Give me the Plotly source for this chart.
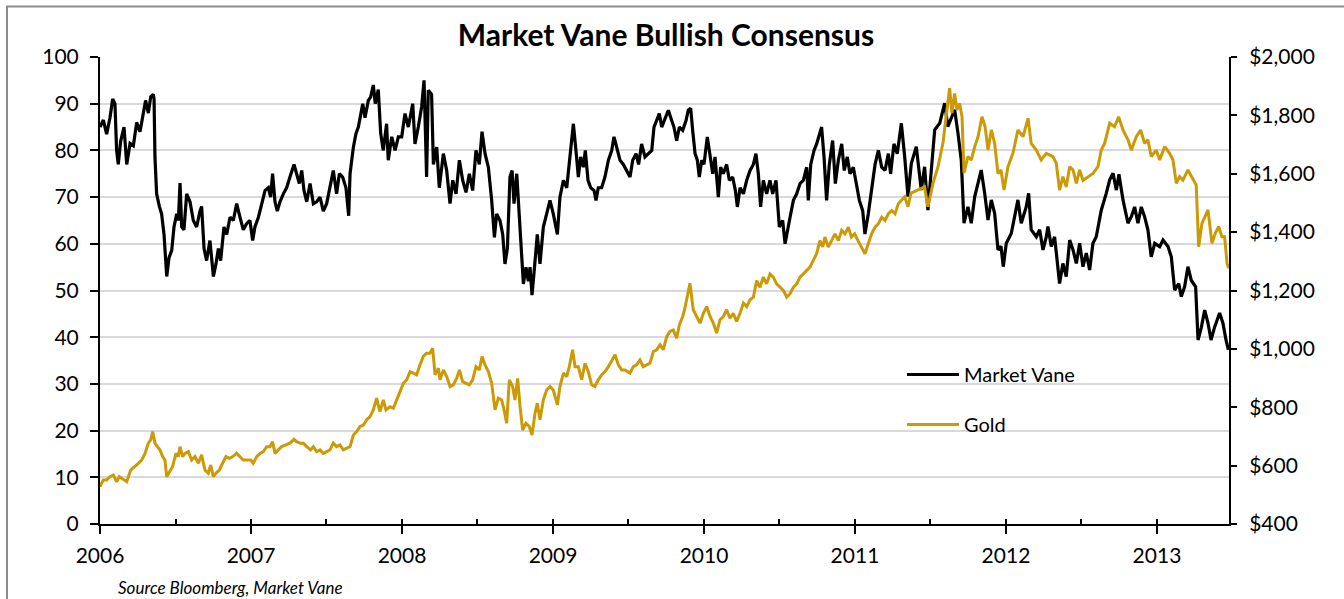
import plotly.graph_objects as go

# ---------------- data ----------------
mv_years = [
    2006.000, 2006.022, 2006.044, 2006.066, 2006.084, 2006.099, 2006.110, 2006.121, 2006.137, 2006.159,
    2006.177, 2006.199, 2006.221, 2006.243, 2006.265, 2006.287, 2006.302, 2006.320, 2006.336, 2006.353,
    2006.358, 2006.364, 2006.375, 2006.393, 2006.408, 2006.424, 2006.442, 2006.457, 2006.475, 2006.490,
    2006.508, 2006.519, 2006.530, 2006.541, 2006.556, 2006.574, 2006.596, 2006.618, 2006.640, 2006.662,
    2006.673, 2006.689, 2006.706, 2006.728, 2006.751, 2006.768, 2006.784, 2006.799, 2006.821, 2006.839,
    2006.861, 2006.883, 2006.905, 2006.927, 2006.949, 2006.971, 2006.993, 2007.011, 2007.026, 2007.049,
    2007.071, 2007.093, 2007.115, 2007.130, 2007.143, 2007.159, 2007.174, 2007.192, 2007.214, 2007.236,
    2007.258, 2007.285, 2007.302, 2007.320, 2007.336, 2007.351, 2007.369, 2007.391, 2007.413, 2007.435,
    2007.457, 2007.479, 2007.501, 2007.523, 2007.545, 2007.567, 2007.585, 2007.607, 2007.629, 2007.647,
    2007.656, 2007.678, 2007.695, 2007.711, 2007.722, 2007.740, 2007.755, 2007.777, 2007.792, 2007.810,
    2007.823, 2007.843, 2007.859, 2007.876, 2007.898, 2007.909, 2007.932, 2007.954, 2007.976, 2007.998,
    2008.020, 2008.042, 2008.071, 2008.086, 2008.108, 2008.130, 2008.146, 2008.163, 2008.174, 2008.196,
    2008.208, 2008.230, 2008.247, 2008.274, 2008.296,
    2008.318, 2008.336, 2008.358, 2008.380, 2008.402, 2008.424, 2008.446, 2008.468, 2008.490, 2008.512,
    2008.530, 2008.550, 2008.572, 2008.594, 2008.612, 2008.627, 2008.649, 2008.667, 2008.682, 2008.698,
    2008.715, 2008.729, 2008.742, 2008.760, 2008.777, 2008.793, 2008.804, 2008.821, 2008.837, 2008.848,
    2008.861, 2008.874, 2008.896, 2008.914, 2008.936, 2008.958, 2008.980, 2009.002, 2009.029, 2009.046,
    2009.069, 2009.091, 2009.113, 2009.135, 2009.152, 2009.168, 2009.183, 2009.201, 2009.214, 2009.232,
    2009.250, 2009.272, 2009.285, 2009.300, 2009.322, 2009.344, 2009.367, 2009.389, 2009.404, 2009.422,
    2009.444, 2009.466, 2009.488, 2009.510, 2009.528, 2009.550, 2009.567, 2009.587, 2009.609, 2009.631,
    2009.654, 2009.669, 2009.687, 2009.704, 2009.720, 2009.742, 2009.764, 2009.786, 2009.801, 2009.819,
    2009.837, 2009.859, 2009.881, 2009.896, 2009.912, 2009.925, 2009.941, 2009.956, 2009.969, 2009.985,
    2010.000, 2010.022, 2010.040, 2010.058, 2010.073, 2010.095, 2010.110, 2010.128, 2010.150, 2010.168,
    2010.190, 2010.208, 2010.221, 2010.239, 2010.261, 2010.283, 2010.305, 2010.327, 2010.344, 2010.360,
    2010.375, 2010.393, 2010.415, 2010.437, 2010.455, 2010.477, 2010.499, 2010.521, 2010.537, 2010.552,
    2010.570, 2010.592, 2010.614, 2010.636, 2010.658, 2010.680, 2010.691, 2010.707, 2010.729, 2010.746,
    2010.764, 2010.779, 2010.795, 2010.812, 2010.830, 2010.852, 2010.870, 2010.890, 2010.912, 2010.929,
    2010.949, 2010.967, 2010.989, 2011.011, 2011.029, 2011.051, 2011.066, 2011.088, 2011.110, 2011.133,
    2011.155, 2011.177, 2011.199, 2011.221, 2011.236, 2011.258, 2011.280,
    2011.307, 2011.329, 2011.351, 2011.373, 2011.406, 2011.439, 2011.461, 2011.483, 2011.505, 2011.528,
    2011.561, 2011.583, 2011.594, 2011.615, 2011.638, 2011.660, 2011.682, 2011.704, 2011.722, 2011.748,
    2011.770, 2011.793, 2011.815, 2011.836, 2011.859, 2011.881, 2011.903, 2011.925, 2011.947, 2011.967,
    2011.982, 2012.002, 2012.035, 2012.057, 2012.079, 2012.101, 2012.134, 2012.150, 2012.167, 2012.201,
    2012.223, 2012.245, 2012.267,
    2012.278, 2012.300, 2012.322, 2012.355, 2012.377, 2012.399, 2012.422, 2012.444, 2012.466, 2012.488,
    2012.510, 2012.532, 2012.554, 2012.576, 2012.598, 2012.631, 2012.664, 2012.687, 2012.709, 2012.731,
    2012.748, 2012.775, 2012.808, 2012.830, 2012.852, 2012.874, 2012.896, 2012.918, 2012.940, 2012.962,
    2012.985, 2013.018, 2013.040, 2013.073, 2013.095, 2013.117, 2013.144, 2013.161, 2013.183, 2013.205,
    2013.227, 2013.256, 2013.272, 2013.293, 2013.316, 2013.338, 2013.358, 2013.382, 2013.415, 2013.437,
    2013.457, 2013.473,
]
mv_values = [
    85, 86.5, 83.5, 87, 91, 90, 80, 77, 82, 85,
    77, 81.5, 81, 86, 84, 88.5, 90.7, 88, 91.5, 92,
    91, 78.6, 70.7, 68, 66.4, 62, 53, 57, 58.6, 63.6,
    66.4, 65, 73, 63.6, 63, 70.7, 69, 65, 63.6, 67,
    68, 59, 56.4, 60.7, 53, 55.7, 59, 56.4, 63.6, 62,
    65.7, 65, 68.6, 65.7, 63, 64.3, 65, 60.7, 63.6, 65.7,
    68.6, 71.4, 72, 70, 75, 69, 67, 69, 70.7, 72,
    74.3, 77, 75, 72.9, 75.7, 71.4, 69, 72.9, 68.6, 69,
    70, 67, 68.6, 72, 75.7, 70.7, 75, 74.3, 72, 66,
    75, 80.7, 83.6, 85, 87, 90, 87, 90.7, 91.4, 94,
    90, 93, 83.6, 80, 85.7, 77.9, 82.9, 80, 82.9, 82.9,
    87.9, 85, 90, 81.4, 85, 89.3, 95, 74.3, 92.9, 92,
    77, 80.7, 72, 79.3, 75.7,
    68.6, 73.6, 70.7, 77.9, 73.6, 71, 75, 71.4, 80, 77,
    84, 79.3, 76.4, 69.3, 61.4, 66.4, 65, 62, 55.7, 59,
    74.3, 75.7, 68.6, 75, 65.7, 59, 51.4, 55, 52, 55,
    49, 53.6, 62, 55.7, 63.6, 66.4, 69.3, 66.4, 62, 70,
    73.6, 72, 78.6, 85.7, 80, 74.3, 78.6, 76.4, 80, 73.6,
    72, 71.4, 69.3, 72, 72, 74.3, 77.9, 80, 82.9, 80.7,
    77.9, 77, 75.7, 74.3, 77.9, 79.3, 77, 81.4, 78.6, 79.3,
    80, 85, 86.4, 87.9, 85, 87, 88.6, 86.4, 85, 82.1,
    85, 84.3, 86.4, 88.6, 89, 84.3, 79.3, 77.9, 74.3, 77.9,
    77, 82.9, 79.3, 75, 78.6, 70, 76.4, 75, 77, 73.6,
    74.3, 71.4, 67.9, 72, 70.7, 73.6, 75.7, 77, 79.3, 75,
    67.9, 73.6, 70.7, 73.6, 70.7, 73.6, 63.6, 65, 60, 62.9,
    65.7, 69.3, 70.7, 72.9, 73.6, 76.4, 69.3, 77, 80, 81.4,
    83.6, 85, 78.6, 69.3, 77, 82.1, 72.9, 77.9, 81.4, 75.7,
    78.6, 75, 76.4, 72.9, 69.3, 67.1, 62.1, 66.4, 71.4, 77,
    80, 76.4, 75.7, 79.3, 75, 81.4, 79.3,
    85.8, 78.7, 70.1, 77.2, 80.8, 71.5, 76.5, 67.2, 75.1, 84.4,
    85.8, 88.7, 90.1, 85.1, 87.2, 88.7, 83.7, 77.9, 64.4, 67.9,
    64.4, 70.1, 73, 75.8, 70.8, 65.1, 69.4, 66.5, 58.7, 59.5,
    55.1, 60.1, 62.2, 65.8, 69.4, 64.4, 67.9, 70.8, 63, 61.5,
    63, 58.7, 61.5,
    63.7, 59.4, 61.5, 51.5, 55.8, 53, 60.8, 58.7, 55.8, 60.1,
    55.1, 58, 54.4, 60.1, 61.5, 67.2, 70.8, 73.7, 75.1, 71.5,
    74.9, 69.4, 64.4, 65.8, 67.9, 64.4, 67.9, 65.8, 63, 57.2,
    60.1, 59.4, 60.8, 59.4, 57.2, 50.1, 51.5, 48.7, 50.8, 55.1,
    52.2, 50.8, 39.4, 42, 45.8, 43, 39.4, 42.2, 45.2, 43,
    39.4, 37.3,
]

gold_years = [
    2006.000, 2006.022, 2006.044, 2006.066, 2006.088, 2006.110, 2006.128, 2006.155, 2006.177, 2006.203,
    2006.232, 2006.254, 2006.276, 2006.298, 2006.320, 2006.336, 2006.349, 2006.364, 2006.380, 2006.397,
    2006.415, 2006.430, 2006.442, 2006.464, 2006.481, 2006.503, 2006.519, 2006.530, 2006.547, 2006.563,
    2006.585, 2006.607, 2006.629, 2006.651, 2006.673, 2006.695, 2006.717, 2006.733, 2006.751, 2006.768,
    2006.790, 2006.812, 2006.834, 2006.857, 2006.879, 2006.905, 2006.927, 2006.949, 2006.976, 2006.998,
    2007.015, 2007.038, 2007.060, 2007.082, 2007.104, 2007.126, 2007.143, 2007.159, 2007.181, 2007.203,
    2007.232, 2007.258, 2007.285, 2007.302, 2007.325, 2007.347, 2007.369, 2007.395, 2007.413, 2007.435,
    2007.457, 2007.479, 2007.501, 2007.523, 2007.545, 2007.567, 2007.589, 2007.611, 2007.634, 2007.656,
    2007.678, 2007.700, 2007.722, 2007.744, 2007.766, 2007.788, 2007.810, 2007.832, 2007.854, 2007.876,
    2007.894, 2007.921, 2007.943, 2007.965, 2007.987, 2008.009, 2008.031, 2008.053, 2008.075, 2008.097,
    2008.119, 2008.141, 2008.163, 2008.185, 2008.203, 2008.219, 2008.241, 2008.252, 2008.274, 2008.296,
    2008.318, 2008.340, 2008.362, 2008.380, 2008.402, 2008.424, 2008.446, 2008.468, 2008.490, 2008.512,
    2008.530, 2008.550, 2008.572, 2008.594, 2008.616, 2008.638, 2008.660, 2008.676, 2008.693, 2008.711,
    2008.733, 2008.748, 2008.766, 2008.782, 2008.799, 2008.821, 2008.843, 2008.861, 2008.881, 2008.896,
    2008.914, 2008.936, 2008.958, 2008.980, 2009.002, 2009.029, 2009.046, 2009.069, 2009.091, 2009.108,
    2009.130, 2009.146, 2009.168, 2009.190, 2009.212, 2009.234, 2009.256, 2009.278, 2009.300, 2009.322,
    2009.344, 2009.367, 2009.389, 2009.411, 2009.433, 2009.455, 2009.477, 2009.510, 2009.532, 2009.554,
    2009.576, 2009.598, 2009.620, 2009.642, 2009.665, 2009.687, 2009.709, 2009.731, 2009.753, 2009.775,
    2009.797, 2009.819, 2009.837, 2009.859, 2009.874, 2009.890, 2009.907, 2009.929, 2009.951, 2009.974,
    2009.996, 2010.018, 2010.040, 2010.062, 2010.084, 2010.106, 2010.128, 2010.150, 2010.172, 2010.194,
    2010.216, 2010.239, 2010.261, 2010.283, 2010.305, 2010.327, 2010.349, 2010.371, 2010.393, 2010.415,
    2010.437, 2010.459, 2010.481, 2010.503, 2010.526, 2010.548, 2010.570, 2010.592, 2010.614, 2010.636,
    2010.658, 2010.680, 2010.702, 2010.724, 2010.746, 2010.768, 2010.786, 2010.801, 2010.823, 2010.845,
    2010.867, 2010.890, 2010.912, 2010.934, 2010.956, 2010.976, 2010.998, 2011.020, 2011.042, 2011.066,
    2011.088, 2011.110, 2011.133, 2011.155, 2011.177, 2011.199, 2011.221, 2011.243, 2011.265, 2011.287,
    2011.329, 2011.351, 2011.371, 2011.417, 2011.461, 2011.483, 2011.517, 2011.550, 2011.583, 2011.603,
    2011.627, 2011.642, 2011.660, 2011.675, 2011.693, 2011.709, 2011.722, 2011.748, 2011.770, 2011.793,
    2011.815, 2011.841, 2011.862, 2011.881, 2011.903, 2011.925, 2011.947, 2011.967, 2011.987, 2012.013,
    2012.046, 2012.079, 2012.113, 2012.146, 2012.167, 2012.201, 2012.233, 2012.267, 2012.311, 2012.333,
    2012.355, 2012.377, 2012.399, 2012.422, 2012.444, 2012.466, 2012.488, 2012.510, 2012.543, 2012.576,
    2012.609, 2012.631, 2012.653, 2012.687, 2012.719, 2012.746, 2012.775, 2012.808, 2012.830, 2012.863,
    2012.892, 2012.918, 2012.940, 2012.962, 2012.995, 2013.018, 2013.051, 2013.084, 2013.106, 2013.128,
    2013.150, 2013.172, 2013.205, 2013.238, 2013.260, 2013.276, 2013.298, 2013.338, 2013.364, 2013.386,
    2013.408, 2013.430, 2013.448, 2013.464, 2013.475,
]
gold_values = [
    528, 551, 551, 562, 568, 545, 562, 551, 545, 585,
    597, 608, 619, 642, 677, 688, 717, 677, 665, 654,
    631, 619, 562, 580, 597, 642, 631, 665, 631, 642,
    648, 619, 631, 608, 637, 585, 574, 602, 562, 574,
    585, 608, 631, 625, 631, 642, 631, 619, 619, 619,
    608, 631, 642, 648, 665, 665, 682, 642, 654, 665,
    671, 677, 690, 682, 677, 677, 665, 654, 665, 648,
    654, 642, 648, 654, 677, 665, 671, 654, 660, 665,
    705, 717, 734, 739, 757, 768, 791, 831, 785, 825,
    791, 802, 797, 825, 859, 882, 894, 922, 917, 911,
    945, 974, 985, 985, 1002, 911, 934, 894, 928, 905,
    871, 877, 899, 928, 888, 882, 877, 894, 939, 928,
    974, 945, 922, 882, 791, 831, 825, 791, 745, 894,
    871, 825, 899, 802, 722, 745, 734, 705, 779, 814,
    757, 825, 859, 871, 859, 808, 871, 917, 905, 939,
    997, 939, 939, 894, 951, 922, 877, 871, 894, 911,
    922, 939, 962, 980, 945, 928, 928, 917, 939, 945,
    962, 939, 945, 951, 991, 997, 1014, 997, 1042, 1060,
    1065, 1037, 1082, 1111, 1140, 1185, 1225, 1134, 1111, 1088,
    1122, 1145, 1111, 1088, 1054, 1100, 1111, 1134, 1105, 1122,
    1094, 1122, 1157, 1145, 1168, 1177, 1234, 1211, 1246, 1223,
    1257, 1246, 1223, 1211, 1200, 1177, 1189, 1211, 1223, 1246,
    1257, 1269, 1280, 1303, 1326, 1371, 1349, 1383, 1349, 1371,
    1394, 1371, 1406, 1394, 1417, 1383, 1394, 1371, 1349, 1326,
    1360, 1394, 1417, 1429, 1451, 1440, 1463, 1474, 1463, 1497,
    1521, 1487, 1534, 1544, 1555, 1487, 1568, 1624, 1706, 1795,
    1893, 1808, 1875, 1819, 1841, 1795, 1603, 1659, 1647, 1693,
    1727, 1795, 1761, 1681, 1750, 1704, 1601, 1613, 1544, 1624,
    1670, 1750, 1727, 1790, 1704, 1681, 1647, 1670, 1659, 1636,
    1544, 1590, 1555, 1624, 1613, 1567, 1613, 1577, 1590, 1601,
    1624, 1681, 1704, 1773, 1761, 1795, 1750, 1716, 1681, 1727,
    1750, 1704, 1716, 1659, 1681, 1647, 1693, 1670, 1647, 1567,
    1590, 1578, 1613, 1584, 1561, 1350, 1430, 1476, 1362, 1396,
    1419, 1384, 1384, 1293, 1276,
]

year_ticks = [2006, 2007, 2008, 2009, 2010, 2011, 2012, 2013]
half_year_ticks = [2006, 2006.5, 2007, 2007.5, 2008, 2008.5, 2009, 2009.5, 2010, 2010.5,
                   2011, 2011.5, 2012, 2012.5, 2013]
x_end = 2013.477

# ---------------- figure ----------------
FONT = "Lato"
GOLD = "#CC9A06"

fig = go.Figure()
fig.add_trace(go.Scatter(
    x=mv_years, y=mv_values, name="Market Vane", mode="lines",
    line=dict(color="#000000", width=3.2), legendgroup="mv", yaxis="y", xaxis="x",
))
fig.add_trace(go.Scatter(
    x=gold_years, y=gold_values, name="Gold", mode="lines",
    line=dict(color=GOLD, width=3), legendgroup="gold", yaxis="y2", xaxis="x",
))
# empty helper trace so the overlaid tick axis (inside ticks) is rendered
fig.add_trace(go.Scatter(x=[None], y=[None], xaxis="x2", yaxis="y",
                         showlegend=False, hoverinfo="skip"))

tick_font = dict(family=FONT, size=21, color="#000000")

fig.update_layout(
    width=1344, height=599,
    margin=dict(l=100, r=115, t=57, b=75),
    paper_bgcolor="white", plot_bgcolor="white",
    title=dict(text="<b>Market Vane Bullish Consensus</b>", x=666 / 1344, xref="container",
               xanchor="center", y=1 - 35 / 599, yref="container", yanchor="middle",
               font=dict(family=FONT, size=30, color="#000000")),
    xaxis=dict(range=[2006, x_end], tickmode="array", tickvals=year_ticks,
               ticktext=[str(y) for y in year_ticks], ticks="outside", ticklen=8, tickwidth=1.5,
               tickcolor="black", showline=True, linecolor="black", linewidth=2,
               showgrid=False, zeroline=False, tickfont=tick_font, ticklabelstandoff=4),
    xaxis2=dict(range=[2006, x_end], overlaying="x", anchor="y", side="bottom",
                tickmode="array", tickvals=half_year_ticks, ticks="inside", ticklen=5,
                tickwidth=1.5, tickcolor="black", showticklabels=False, showline=False,
                showgrid=False, zeroline=False),
    yaxis=dict(range=[0, 100], dtick=10, tick0=0, ticks="outside", ticklen=8, tickwidth=1.5,
               tickcolor="black", showline=True, linecolor="black", linewidth=2,
               showgrid=True, gridcolor="#d9d9d9", gridwidth=2, zeroline=False,
               tickfont=tick_font, ticklabelstandoff=7),
    yaxis2=dict(range=[400, 2000], dtick=200, tick0=400, overlaying="y", side="right",
                anchor="x", tickprefix="$", tickformat=",", ticks="outside", ticklen=6,
                tickwidth=1.5, tickcolor="black", showline=True, linecolor="black",
                linewidth=2, showgrid=False, zeroline=False, tickfont=tick_font,
                ticklabelstandoff=8),
    legend=dict(x=(902 - 100) / 1129, xanchor="left", y=(524 - 355) / 467, yanchor="top",
                font=dict(family=FONT, size=20, color="#000000"), bgcolor="rgba(0,0,0,0)",
                traceorder="grouped", tracegroupgap=21, itemwidth=52),
    showlegend=True,
    shapes=[dict(type="rect", xref="paper", yref="paper",
                 x0=(7 - 100) / 1129, x1=(1360 - 100) / 1129,
                 y0=(524 - 620) / 467, y1=(524 - 6.5) / 467,
                 line=dict(color="#8c8c8c", width=2), layer="below")],
    annotations=[dict(text="<i>Source Bloomberg, Market Vane</i>", xref="paper", yref="paper",
                      x=(116 - 100) / 1129, y=(524 - 587) / 467, xanchor="left", yanchor="middle",
                      showarrow=False, font=dict(family=FONT, size=17, color="#000000"))],
)

fig.write_html("out.html", config={"displayModeBar": False},
               post_script="document.body.style.margin='0px';")
